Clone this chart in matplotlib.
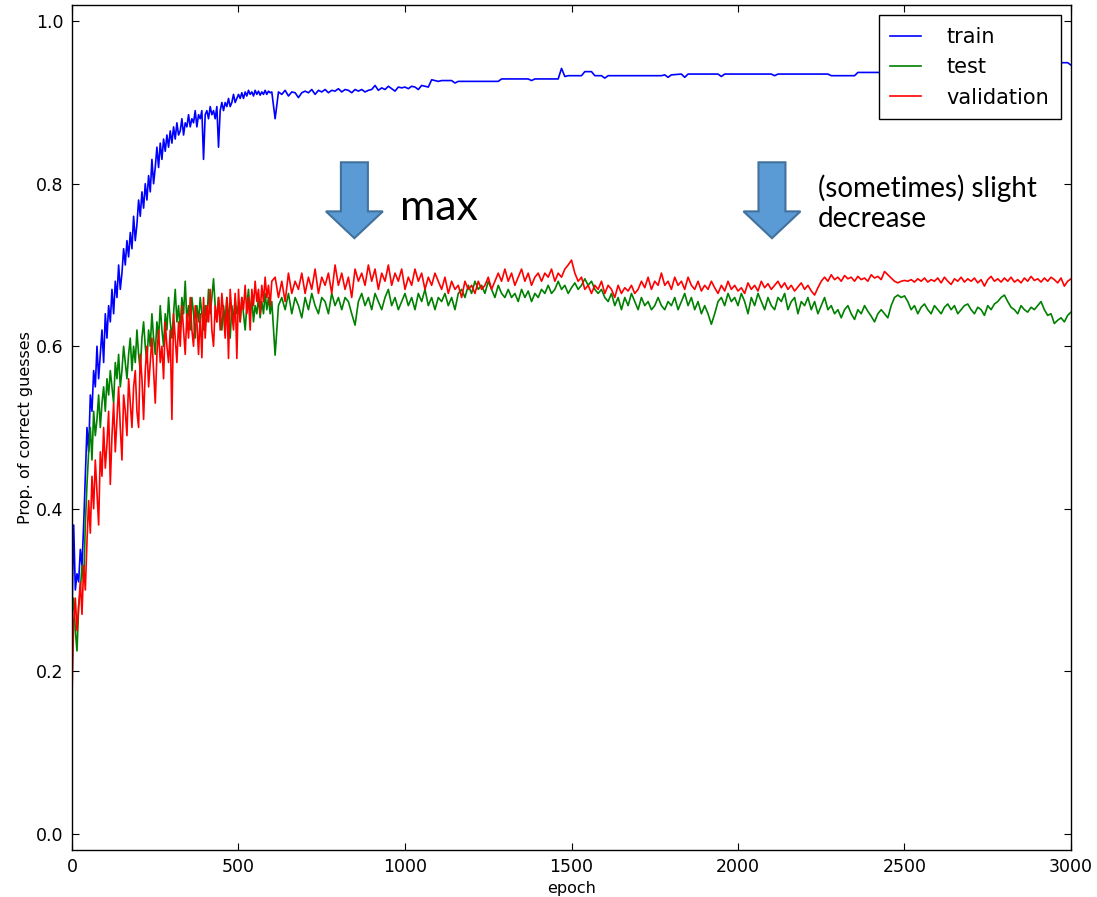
import numpy as np
import matplotlib
matplotlib.use("Agg")
import matplotlib.pyplot as plt
from matplotlib.patches import FancyArrow

# ---------------- data ----------------
# --- train accuracy: every 5 epochs for 0..600
train_early = [
    0.27, 0.38, 0.30, 0.32, 0.31, 0.35, 0.33, 0.38, 0.44, 0.50, 0.47, 0.54, 0.52, 0.57, 0.55, 0.60, 0.56, 0.59, 0.62, 0.58, 0.64,
    0.61, 0.65, 0.63, 0.67, 0.64, 0.68, 0.66, 0.70, 0.67, 0.69, 0.72, 0.70, 0.73, 0.71, 0.74, 0.72, 0.76, 0.73, 0.75, 0.78,
    0.76, 0.79, 0.77, 0.80, 0.78, 0.81, 0.79, 0.83, 0.80, 0.82, 0.845, 0.82, 0.85, 0.83, 0.855, 0.84, 0.86, 0.845, 0.865, 0.85,
    0.87, 0.855, 0.875, 0.86, 0.865, 0.88, 0.86, 0.875, 0.87, 0.885, 0.87, 0.88, 0.875, 0.89, 0.87, 0.885, 0.88, 0.89, 0.83, 0.885,
    0.89, 0.88, 0.895, 0.885, 0.89, 0.88, 0.895, 0.845, 0.89, 0.90, 0.89, 0.90, 0.895, 0.905, 0.895, 0.90, 0.91, 0.90, 0.905, 0.91,
    0.905, 0.912, 0.905, 0.913, 0.908, 0.915, 0.91, 0.913, 0.908, 0.915, 0.91, 0.914, 0.909, 0.913, 0.91, 0.915, 0.91, 0.914, 0.912, 0.913,
]
# --- train accuracy: every 10 epochs for 610..1100
train_mid = [
    0.88, 0.913, 0.91, 0.915, 0.908, 0.913, 0.912, 0.906, 0.912, 0.914,
    0.912, 0.916, 0.91, 0.915, 0.913, 0.916, 0.912, 0.915, 0.914, 0.917,
    0.913, 0.916, 0.915, 0.912, 0.916, 0.914, 0.916, 0.913, 0.915, 0.916,
    0.921, 0.915, 0.918, 0.916, 0.92, 0.917, 0.914, 0.919, 0.918, 0.919,
    0.917, 0.92, 0.919, 0.916, 0.921, 0.92, 0.919, 0.928, 0.927, 0.926,
]
# --- train accuracy after epoch 1100 (step-like): breakpoints
train_late_epochs = [1110, 1140, 1150, 1160, 1280, 1290, 1370, 1380, 1390, 1460,
                     1470, 1480, 1490, 1530, 1540, 1560, 1570, 1590, 1600, 1610,
                     1770, 1780, 1790, 1800, 1830, 1840, 1850, 1940, 1950, 1960,
                     2100, 2110, 2120, 2270, 2280, 2350, 2360, 2950, 2960, 2990,
                     3000]
train_late = [0.927, 0.927, 0.924, 0.926, 0.926, 0.929, 0.929, 0.927, 0.929, 0.929,
              0.942, 0.932, 0.933, 0.933, 0.938, 0.938, 0.933, 0.933, 0.930, 0.933,
              0.933, 0.934, 0.931, 0.934, 0.935, 0.931, 0.935, 0.935, 0.932, 0.935,
              0.935, 0.933, 0.935, 0.935, 0.933, 0.933, 0.937, 0.937, 0.949, 0.949,
              0.946]

# --- test accuracy: every 5 epochs for 0..600
test_early = [
    0.27, 0.29, 0.25, 0.225, 0.28, 0.30, 0.33, 0.31, 0.38, 0.43, 0.47, 0.50, 0.46, 0.52, 0.49, 0.51, 0.54, 0.50, 0.53, 0.55, 0.52,
    0.56, 0.54, 0.57, 0.55, 0.53, 0.58, 0.56, 0.59, 0.55, 0.57, 0.60, 0.58, 0.56, 0.59, 0.61, 0.57, 0.60, 0.58, 0.62, 0.59,
    0.57, 0.61, 0.63, 0.60, 0.58, 0.62, 0.60, 0.64, 0.61, 0.59, 0.63, 0.61, 0.65, 0.62, 0.60, 0.64, 0.62, 0.66, 0.63, 0.61,
    0.64, 0.67, 0.63, 0.65, 0.62, 0.66, 0.64, 0.68, 0.63, 0.65, 0.62, 0.66, 0.64, 0.61, 0.65, 0.63, 0.66, 0.64, 0.62, 0.65,
    0.63, 0.67, 0.64, 0.66, 0.683, 0.65, 0.63, 0.66, 0.64, 0.62, 0.65, 0.63, 0.66, 0.64, 0.61, 0.65, 0.63, 0.66, 0.64, 0.65,
    0.63, 0.66, 0.64, 0.62, 0.65, 0.67, 0.64, 0.66, 0.63, 0.65, 0.64, 0.66, 0.635, 0.655, 0.64, 0.665, 0.645, 0.66, 0.64, 0.655,
]
# --- test accuracy: every 10 epochs for 610..3000
test_late = [
    0.589, 0.65, 0.66, 0.645, 0.665, 0.64, 0.66, 0.65, 0.635, 0.66,
    0.645, 0.665, 0.65, 0.64, 0.66, 0.655, 0.64, 0.665, 0.65, 0.66,
    0.645, 0.66, 0.655, 0.64, 0.626, 0.655, 0.665, 0.65, 0.66, 0.645,
    0.665, 0.655, 0.645, 0.66, 0.67, 0.65, 0.66, 0.645, 0.655, 0.665,
    0.65, 0.66, 0.645, 0.665, 0.655, 0.67, 0.65, 0.66, 0.645, 0.66,
    0.655, 0.665, 0.65, 0.66, 0.645, 0.665, 0.67, 0.66, 0.675, 0.665,
    0.68, 0.67, 0.675, 0.665, 0.68, 0.67, 0.66, 0.675, 0.665, 0.66,
    0.67, 0.66, 0.665, 0.655, 0.67, 0.66, 0.668, 0.655, 0.665, 0.66,
    0.67, 0.665, 0.675, 0.665, 0.67, 0.68, 0.67, 0.675, 0.665, 0.672,
    0.678, 0.67, 0.675, 0.683, 0.675, 0.68, 0.67, 0.665, 0.67, 0.66,
    0.655, 0.665, 0.65, 0.66, 0.645, 0.66, 0.65, 0.665, 0.655, 0.645,
    0.66, 0.65, 0.655, 0.645, 0.65, 0.66, 0.65, 0.645, 0.655, 0.65,
    0.66, 0.645, 0.655, 0.665, 0.65, 0.66, 0.645, 0.655, 0.64, 0.65,
    0.64, 0.627, 0.64, 0.655, 0.66, 0.65, 0.665, 0.655, 0.66, 0.65,
    0.665, 0.655, 0.64, 0.66, 0.65, 0.665, 0.655, 0.645, 0.66, 0.65,
    0.645, 0.66, 0.655, 0.665, 0.645, 0.655, 0.66, 0.64, 0.655, 0.65,
    0.66, 0.645, 0.655, 0.64, 0.65, 0.66, 0.645, 0.65, 0.64, 0.645,
    0.635, 0.645, 0.65, 0.64, 0.633, 0.645, 0.64, 0.65, 0.643, 0.637,
    0.63, 0.64, 0.645, 0.64, 0.635, 0.65, 0.66, 0.663, 0.66, 0.662,
    0.655, 0.645, 0.65, 0.64, 0.648, 0.652, 0.645, 0.64, 0.65, 0.645,
    0.64, 0.648, 0.652, 0.645, 0.65, 0.64, 0.645, 0.65, 0.652, 0.645,
    0.64, 0.648, 0.645, 0.638, 0.65, 0.645, 0.652, 0.655, 0.66, 0.663,
    0.655, 0.648, 0.645, 0.64, 0.65, 0.645, 0.642, 0.648, 0.645, 0.65,
    0.655, 0.645, 0.638, 0.64, 0.628, 0.632, 0.635, 0.63, 0.638, 0.642,
]

# --- validation accuracy: every 5 epochs for 0..600
val_early = [
    0.17, 0.26, 0.29, 0.25, 0.28, 0.31, 0.27, 0.33, 0.30, 0.36, 0.41, 0.37, 0.44, 0.40, 0.46, 0.42, 0.38, 0.47, 0.44, 0.50, 0.45,
    0.48, 0.52, 0.43, 0.49, 0.53, 0.47, 0.51, 0.55, 0.50, 0.46, 0.54, 0.52, 0.49, 0.56, 0.53, 0.50, 0.55, 0.57, 0.52, 0.50,
    0.59, 0.56, 0.51, 0.57, 0.60, 0.55, 0.58, 0.61, 0.57, 0.53, 0.59, 0.62, 0.58, 0.60, 0.56, 0.63, 0.60, 0.58, 0.62, 0.51,
    0.64, 0.61, 0.58, 0.63, 0.60, 0.65, 0.62, 0.59, 0.64, 0.61, 0.66, 0.62, 0.60, 0.65, 0.63, 0.59, 0.64, 0.586, 0.66, 0.61,
    0.65, 0.63, 0.67, 0.62, 0.60, 0.65, 0.63, 0.66, 0.62, 0.665, 0.64, 0.61, 0.66, 0.585, 0.67, 0.64, 0.62, 0.665, 0.585, 0.67,
    0.63, 0.66, 0.645, 0.675, 0.64, 0.66, 0.62, 0.67, 0.65, 0.68, 0.655, 0.67, 0.64, 0.675, 0.655, 0.685, 0.66, 0.675, 0.65, 0.68,
]
# --- validation accuracy: every 10 epochs for 610..3000
val_late = [
    0.685, 0.66, 0.68, 0.655, 0.69, 0.665, 0.68, 0.67, 0.69, 0.665,
    0.685, 0.67, 0.695, 0.665, 0.685, 0.675, 0.69, 0.665, 0.70, 0.675,
    0.69, 0.67, 0.685, 0.66, 0.695, 0.68, 0.69, 0.675, 0.70, 0.68,
    0.695, 0.67, 0.69, 0.68, 0.70, 0.675, 0.69, 0.68, 0.695, 0.67,
    0.685, 0.675, 0.695, 0.68, 0.69, 0.67, 0.685, 0.675, 0.69, 0.68,
    0.67, 0.685, 0.665, 0.68, 0.67, 0.675, 0.66, 0.68, 0.67, 0.675,
    0.665, 0.68, 0.67, 0.675, 0.685, 0.67, 0.68, 0.69, 0.68, 0.695,
    0.68, 0.69, 0.675, 0.685, 0.695, 0.68, 0.69, 0.675, 0.685, 0.69,
    0.68, 0.69, 0.685, 0.695, 0.68, 0.69, 0.685, 0.695, 0.70, 0.706,
    0.69, 0.68, 0.685, 0.67, 0.675, 0.665, 0.675, 0.67, 0.68, 0.665,
    0.675, 0.67, 0.66, 0.675, 0.665, 0.672, 0.668, 0.675, 0.665, 0.67,
    0.68, 0.672, 0.685, 0.67, 0.68, 0.675, 0.69, 0.675, 0.68, 0.67,
    0.685, 0.675, 0.68, 0.67, 0.685, 0.675, 0.67, 0.68, 0.668, 0.675,
    0.67, 0.68, 0.672, 0.665, 0.675, 0.668, 0.68, 0.67, 0.675, 0.668,
    0.672, 0.665, 0.678, 0.67, 0.675, 0.668, 0.68, 0.672, 0.677, 0.67,
    0.675, 0.68, 0.672, 0.678, 0.67, 0.675, 0.668, 0.673, 0.678, 0.67,
    0.675, 0.668, 0.663, 0.672, 0.68, 0.685, 0.68, 0.688, 0.682, 0.685,
    0.68, 0.687, 0.683, 0.685, 0.68, 0.686, 0.682, 0.684, 0.68, 0.688,
    0.684, 0.686, 0.682, 0.692, 0.688, 0.684, 0.68, 0.678, 0.68, 0.681,
    0.68, 0.682, 0.679, 0.683, 0.68, 0.684, 0.679, 0.682, 0.68, 0.684,
    0.678, 0.685, 0.68, 0.676, 0.683, 0.68, 0.685, 0.679, 0.683, 0.68,
    0.684, 0.678, 0.682, 0.674, 0.682, 0.686, 0.68, 0.683, 0.679, 0.684,
    0.68, 0.685, 0.679, 0.682, 0.678, 0.684, 0.68, 0.686, 0.681, 0.683,
    0.679, 0.684, 0.68, 0.685, 0.682, 0.678, 0.684, 0.674, 0.68, 0.683,
]

series_labels = ["train", "test", "validation"]
x_ticks = [0, 500, 1000, 1500, 2000, 2500, 3000]
y_ticks = [0.0, 0.2, 0.4, 0.6, 0.8, 1.0]

# annotation arrows (center epoch) and texts
arrow_centers = [848, 2102]
annot_texts = ["max", "(sometimes) slight\ndecrease"]


def epochs_for(early, late):
    x_early = np.arange(len(early)) * 5
    x_late = 600 + (np.arange(len(late)) + 1) * 10
    return np.concatenate([x_early, x_late])


# ---------------- figure ----------------
plt.rcParams["font.family"] = ["DejaVu Sans"]
fig = plt.figure(figsize=(10.97, 8.97), dpi=100, facecolor="white")
ax = fig.add_axes([72 / 1097, 47 / 897, 999 / 1097, 845 / 897])

train_x = np.concatenate([epochs_for(train_early, train_mid), train_late_epochs])
train_y = train_early + train_mid + train_late
test_x = epochs_for(test_early, test_late)
test_y = test_early + test_late
val_x = epochs_for(val_early, val_late)
val_y = val_early + val_late

ax.plot(train_x, train_y, color=(0, 0, 1), lw=1.2, label=series_labels[0])
ax.plot(test_x, test_y, color=(0, 0.5, 0), lw=1.2, label=series_labels[1])
ax.plot(val_x, val_y, color=(1, 0, 0), lw=1.2, label=series_labels[2])

ax.set_xlim(0, 3000)
ax.set_ylim(-0.02, 1.02)
ax.set_xticks(x_ticks)
ax.set_yticks(y_ticks)
ax.set_yticklabels([f"{v:.1f}" for v in y_ticks])
ax.tick_params(direction="in", top=True, right=True, length=5, width=0.8,
               labelsize=12.5, pad=6, colors="black")
for s in ax.spines.values():
    s.set_linewidth(1.0)
    s.set_color("black")
ax.set_xlabel("epoch", fontsize=11.5, labelpad=3)
ax.set_ylabel("Prop. of correct guesses", fontsize=11.5, labelpad=2)

leg = ax.legend(loc="upper right", fontsize=15, fancybox=False, framealpha=1,
                edgecolor="black", handlelength=1.5, handletextpad=1.2,
                labelspacing=0.5, borderpad=0.55, borderaxespad=0.5)
leg.get_frame().set_linewidth(1.0)

# block arrows
for cx in arrow_centers:
    arr = FancyArrow(cx, 0.8264, 0, 0.733 - 0.8264, width=81, head_width=171,
                     head_length=0.033, length_includes_head=True,
                     facecolor="#5B9BD5", edgecolor="#41719C", lw=1.5, zorder=5)
    ax.add_patch(arr)

ax.text(985, 0.755, annot_texts[0], fontsize=31, family=["Lato", "DejaVu Sans"],
        va="baseline", ha="left", color="black", zorder=6)
ax.text(2240, 0.7464, annot_texts[1], fontsize=20, family=["Lato", "DejaVu Sans"],
        va="baseline", ha="left", color="black", linespacing=1.2, zorder=6)

fig.savefig("out.png", dpi=100, facecolor="white")
